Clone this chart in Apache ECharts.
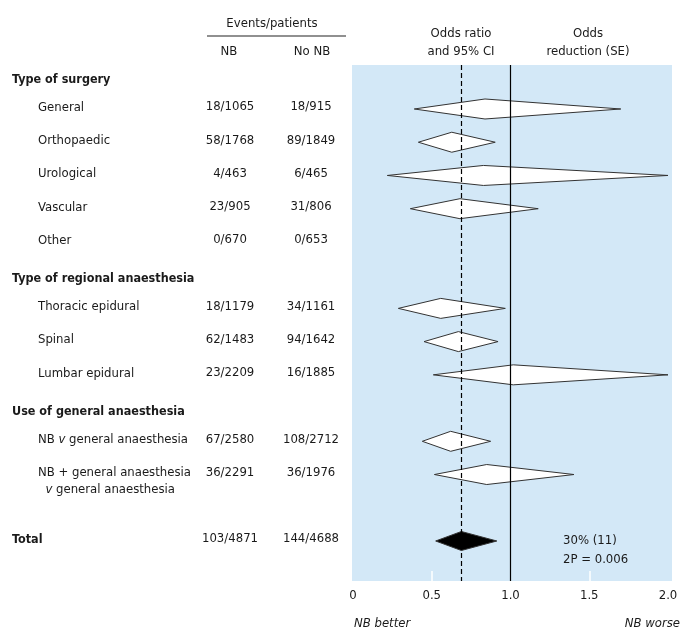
<!DOCTYPE html>
<html><head><meta charset="utf-8">
<script src="https://cdn.jsdelivr.net/npm/echarts@6/dist/echarts.min.js"></script>
<style>html,body{margin:0;padding:0;background:#fff}#c{width:696px;height:640px}</style>
</head><body><div id="c"></div>
<script>
// ---- data ----
const rowLabels = ['General','Orthopaedic','Urological','Vascular','Other','Thoracic epidural','Spinal','Lumbar epidural','NB {i|v} general anaesthesia','NB + general anaesthesia\n  {i|v} general anaesthesia','Total'];
const rowSlots = [0,1,2,3,4,6,7,8,10,11,13];
const rowBold = [false,false,false,false,false,false,false,false,false,false,true];
const nbEvents = ['18/1065','58/1768','4/463','23/905','0/670','18/1179','62/1483','23/2209','67/2580','36/2291','103/4871'];
const noNbEvents = ['18/915','89/1849','6/465','31/806','0/653','34/1161','94/1642','16/1885','108/2712','36/1976','144/4688'];
const orLow  = [0.389,0.415,0.218,0.364,null,0.288,0.451,0.510,0.440,0.517,0.525];
const orMid  = [0.838,0.627,0.828,0.679,null,0.557,0.669,1.018,0.620,0.849,0.688];
const orHigh = [1.700,0.903,2.000,1.176,null,0.967,0.921,2.000,0.874,1.403,0.913];
const groupTitles = ['Type of surgery','Type of regional anaesthesia','Use of general anaesthesia'];
const groupSlots = [-1,5,9];
const overallOR = 0.69;
const nullOR = 1.0;
const totalReduction = '30% (11)';
const totalP = '2P = 0.006';
const xTicks = [0,0.5,1.0,1.5,2.0];

const FONT = '"DejaVu Sans Condensed","Liberation Sans Narrow",sans-serif';
const FS = 13;
const TXT = '#1a1a1a';
const F = FS+'px '+FONT;
const FB = 'bold 12.5px '+FONT;

const chart = echarts.init(document.getElementById('c'), null, {renderer:'canvas'});

const diamondData = [];
const textData = [];
rowSlots.forEach((s,i)=>{
  textData.push([0, s, i]);
  if (orMid[i] != null) diamondData.push([orMid[i], s, orLow[i], orHigh[i], i]);
});
const headerData = groupSlots.map((s,i)=>[0,s,i]);

chart.setOption({
  animation:false,
  graphic:[
    {type:'rect', z:0, shape:{x:352,y:65,width:320,height:516}, style:{fill:'#d3e8f7'}},
    {type:'text', style:{text:'Events/patients', x:272, y:24, textAlign:'center', textVerticalAlign:'middle', font:F, fill:TXT}},
    {type:'line', shape:{x1:207,y1:36,x2:346,y2:36}, style:{stroke:'#222', lineWidth:1.2}},
    {type:'text', style:{text:'NB', x:229, y:52, textAlign:'center', textVerticalAlign:'middle', font:F, fill:TXT}},
    {type:'text', style:{text:'No NB', x:312, y:52, textAlign:'center', textVerticalAlign:'middle', font:F, fill:TXT}},
    {type:'text', style:{text:'Odds ratio\nand 95% CI', x:461, y:43, textAlign:'center', textVerticalAlign:'middle', font:F, fill:TXT, lineHeight:18}},
    {type:'text', style:{text:'Odds\nreduction (SE)', x:588, y:43, textAlign:'center', textVerticalAlign:'middle', font:F, fill:TXT, lineHeight:18}},
    {type:'text', style:{text:'NB better', x:354, y:624, textAlign:'left', textVerticalAlign:'middle', font:'italic '+F, fill:TXT}},
    {type:'text', style:{text:'NB worse', x:680, y:624, textAlign:'right', textVerticalAlign:'middle', font:'italic '+F, fill:TXT}}
  ],
  grid:{left:353, top:65, width:315, height:516, containLabel:false},
  xAxis:{type:'value', min:0, max:2, interval:0.5, position:'bottom',
    axisLine:{show:false, onZero:false}, splitLine:{show:false},
    axisTick:{show:true, inside:true, length:10, customValues:[0.5,1.5], lineStyle:{color:'#fff', width:1.5}},
    axisLabel:{margin:8, fontSize:FS, fontFamily:FONT, color:TXT, customValues:xTicks,
      formatter:v=> v===0?'0':v.toFixed(1)}},
  yAxis:{type:'value', min:-1.324, max:14.204, inverse:true, show:false},
  series:[
    {type:'custom', data:diamondData, z:3, clip:false,
      renderItem:(params, api)=>{
        const c = api.coord([api.value(0), api.value(1)]);
        const l = api.coord([api.value(2), api.value(1)]);
        const r = api.coord([api.value(3), api.value(1)]);
        const total = api.value(4) === rowSlots.length-1;
        const h = total ? 9.5 : 10;
        return {type:'polygon', shape:{points:[[l[0],c[1]],[c[0],c[1]-h],[r[0],c[1]],[c[0],c[1]+h]]},
          style:{fill: total ? '#000' : '#fff', stroke:'#333', lineWidth:1}};
      },
      markLine:{silent:true, symbol:'none', label:{show:false},
        data:[
          {xAxis:nullOR, lineStyle:{color:'#000', width:1.2, type:'solid'}},
          {xAxis:overallOR, lineStyle:{color:'#000', width:1.2, type:[5,3]}}
        ]}
    },
    {type:'custom', data:textData, z:4, clip:false, silent:true,
      renderItem:(params, api)=>{
        const i = api.value(2);
        const y = api.coord([0, api.value(1)])[1] - 2;
        const bold = rowBold[i];
        const rich = {i:{fontStyle:'italic', fontSize:FS, fontFamily:FONT, fill:TXT, lineHeight:17}};
        const children = [
          {type:'text', style:{text:rowLabels[i], x: bold?12:38, y: y, textAlign:'left', textVerticalAlign: 'top',
            font: bold?FB:F, fill:TXT, rich:rich, lineHeight:17}, y:-8},
          {type:'text', style:{text:nbEvents[i], x:230, y:y, textAlign:'center', textVerticalAlign:'middle', font:F, fill:TXT}},
          {type:'text', style:{text:noNbEvents[i], x:311, y:y, textAlign:'center', textVerticalAlign:'middle', font:F, fill:TXT}}
        ];
        if (i === rowSlots.length-1) {
          children.push({type:'text', style:{text:totalReduction, x:563, y:y+2, textAlign:'left', textVerticalAlign:'middle', font:F, fill:TXT}});
          children.push({type:'text', style:{text:totalP, x:563, y:y+21, textAlign:'left', textVerticalAlign:'middle', font:F, fill:TXT}});
        }
        return {type:'group', children:children};
      }
    },
    {type:'custom', data:headerData, z:4, clip:false, silent:true,
      renderItem:(params, api)=>{
        const i = api.value(2);
        const y = api.coord([0, api.value(1)])[1] + 4;
        return {type:'text', style:{text:groupTitles[i], x:12, y:y, textAlign:'left', textVerticalAlign:'middle', font:FB, fill:TXT}};
      }
    }
  ]
});
</script></body></html>
